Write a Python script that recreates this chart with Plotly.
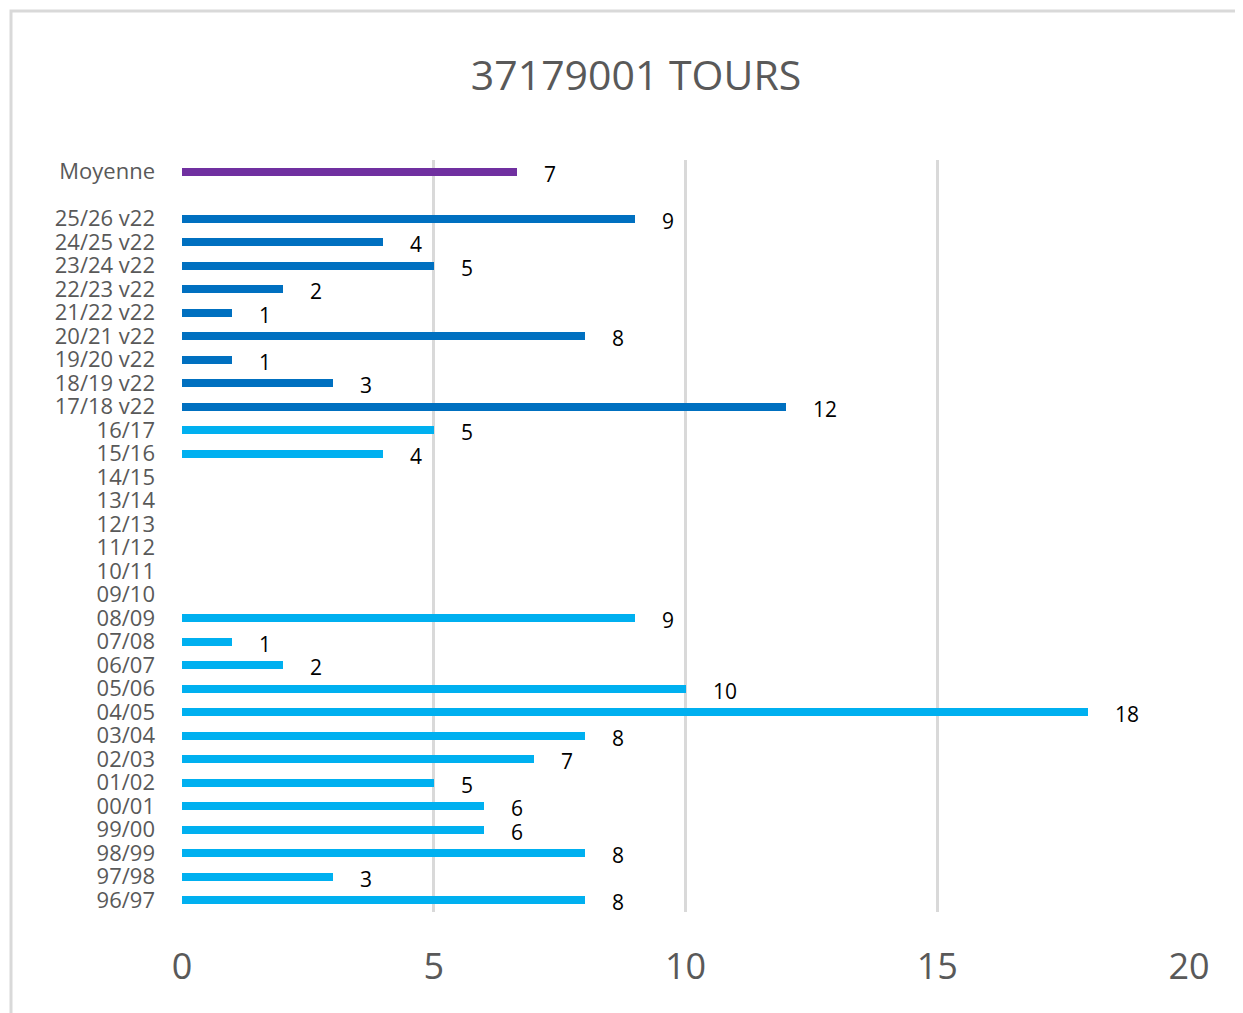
import plotly.graph_objects as go

old_seasons = ["96/97", "97/98", "98/99", "99/00", "00/01", "01/02", "02/03", "03/04",
               "04/05", "05/06", "06/07", "07/08", "08/09", "09/10", "10/11", "11/12",
               "12/13", "13/14", "14/15", "15/16", "16/17"]
old_values = [8, 3, 8, 6, 6, 5, 7, 8, 18, 10, 2, 1, 9, None, None, None, None, None, None, 4, 5]

v22_seasons = ["17/18 v22", "18/19 v22", "19/20 v22", "20/21 v22", "21/22 v22",
               "22/23 v22", "23/24 v22", "24/25 v22", "25/26 v22"]
v22_values = [12, 3, 1, 8, 1, 2, 5, 4, 9]

mean_label = ["Moyenne"]
mean_value = [6.65]

spacer = [" "]
category_order = old_seasons + v22_seasons + spacer + mean_label
x_ticks = [0, 5, 10, 15, 20]

W, H = 1235, 1005
L, R, T, B = 174, 54, 152, 101

fig = go.Figure()
fig.add_trace(go.Bar(y=old_seasons, x=old_values, orientation="h",
                     marker=dict(color="#00B0F0", line=dict(width=0)), showlegend=False))
fig.add_trace(go.Bar(y=v22_seasons, x=v22_values, orientation="h",
                     marker=dict(color="#0070C0", line=dict(width=0)), showlegend=False))
fig.add_trace(go.Bar(y=mean_label, x=mean_value, orientation="h",
                     marker=dict(color="#7030A0", line=dict(width=0)), showlegend=False))

annotations = []
for cats, vals in ((old_seasons, old_values), (v22_seasons, v22_values), (mean_label, mean_value)):
    for c, v in zip(cats, vals):
        if v is None:
            continue
        annotations.append(dict(x=v, y=c, xref="x", yref="y", text=f"{v:.0f}",
                                 showarrow=False, xanchor="left", yanchor="middle",
                                 xshift=25, yshift=-2,
                                 font=dict(family="Open Sans", size=21, color="#000000")))

pw = W - L - R
ph = H - T - B

fig.update_layout(
    width=W, height=H,
    margin=dict(l=L, r=R, t=T, b=B),
    paper_bgcolor="white", plot_bgcolor="white",
    barmode="stack", bargap=0.66,
    title=dict(text="37179001 TOURS", x=628 / W, xanchor="center",
               y=1 - 68 / H, yanchor="middle",
               font=dict(family="Open Sans", size=41, color="#595959")),
    xaxis=dict(range=[0, 20], tickvals=x_ticks, showgrid=True, gridcolor="#D9D9D9", gridwidth=3,
               zeroline=False, showline=False, ticks="",
               tickfont=dict(family="Open Sans", size=36, color="#595959"),
               ticklabelstandoff=30),
    yaxis=dict(type="category", categoryorder="array", categoryarray=category_order,
               tickmode="array", tickvals=category_order, ticktext=category_order,
               range=[-0.5, len(category_order) - 0.5],
               showgrid=False, zeroline=False, showline=False, ticks="",
               tickfont=dict(family="Open Sans", size=22, color="#595959"),
               ticklabelstandoff=26),
    annotations=annotations,
    shapes=[dict(type="rect", xref="paper", yref="paper",
                 x0=(3 - L) / pw, x1=1.3, y0=-0.3, y1=1 + (T - 3) / ph,
                 line=dict(color="#D9D9D9", width=3), fillcolor="rgba(0,0,0,0)", layer="below")],
)

fig.write_html("out.html")
